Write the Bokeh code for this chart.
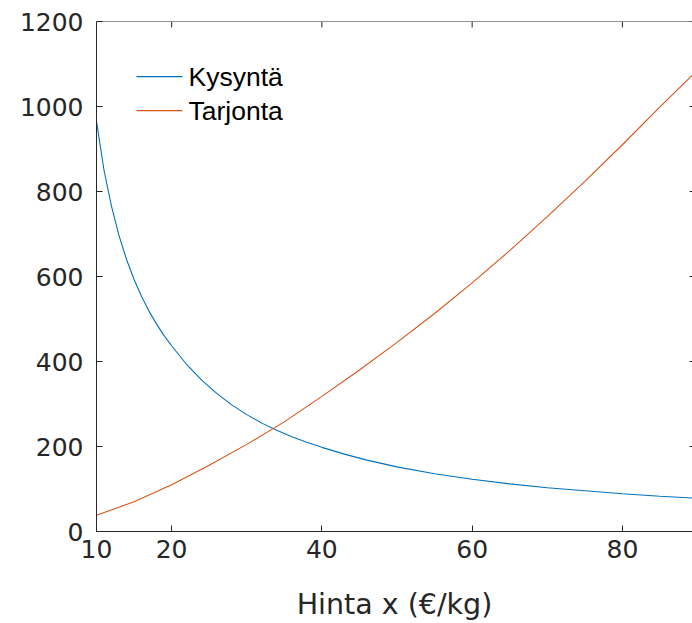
import math

from bokeh.plotting import figure
from bokeh.models import ColumnDataSource, FixedTicker, Label, Range1d, Span
from bokeh.embed import file_html
from bokeh.resources import INLINE

# Demand curve (Kysyntä): quantity against price x
demand_x = [10, 11, 12, 13, 14, 15, 16, 17, 18, 19, 20, 22, 24, 26, 28, 30, 32,
            34, 36, 38, 40, 43, 46, 50, 55, 60, 65, 70, 75, 80, 85, 90]
demand_y = [965, 850, 765, 696, 640, 593, 553, 518, 488, 461, 437, 393, 356,
            325, 298, 275, 255, 238, 223, 210, 198, 182, 168, 152, 136, 123,
            112, 103, 96, 89, 83, 78]

# Supply curve (Tarjonta)
supply_x = [10, 15, 20, 25, 30, 35, 40, 45, 50, 55, 60, 65, 70, 75, 80, 85, 90]
supply_y = [38, 70, 110, 156, 205, 258, 318, 380, 445, 513, 585, 661, 741, 824,
            910, 999, 1086]

series_names = ["Kysyntä", "Tarjonta"]
x_ticks = [10, 20, 40, 60, 80]
y_ticks = [0, 200, 400, 600, 800, 1000, 1200]
x_label = "Hinta x (€/kg)"

X_MIN, X_MAX = 10, 89.33
Y_MIN, Y_MAX = 0, 1200
FRAME_W, FRAME_H = 596, 509          # plot-area size in pixels
PX_X = FRAME_W / (X_MAX - X_MIN)     # pixels per price unit
PX_Y = FRAME_H / (Y_MAX - Y_MIN)     # pixels per quantity unit

TICK_FONT = "DejaVu Sans"
LEGEND_FONT = "Liberation Sans"
AXIS_COLOR = "#262626"
BLUE = "#0072BD"
ORANGE = "#D95319"

p = figure(width=692, height=623, output_backend="svg", toolbar_location=None,
           x_range=Range1d(X_MIN, X_MAX), y_range=Range1d(Y_MIN, Y_MAX),
           min_border_left=96, min_border_right=0, min_border_top=21,
           min_border_bottom=92)
p.xgrid.visible = False
p.ygrid.visible = False
p.outline_line_color = None
p.background_fill_color = "white"
p.border_fill_color = "white"

d_src = ColumnDataSource(dict(x=demand_x, y=demand_y))
s_src = ColumnDataSource(dict(x=supply_x, y=supply_y))
p.line("x", "y", source=d_src, line_color=BLUE, line_width=1.1)
p.line("x", "y", source=s_src, line_color=ORANGE, line_width=1.1)

for ax, ticks, standoff in ((p.xaxis[0], x_ticks, 8), (p.yaxis[0], y_ticks, 13)):
    ax.ticker = FixedTicker(ticks=ticks)
    ax.axis_line_color = AXIS_COLOR
    ax.axis_line_width = 1
    ax.major_tick_line_color = AXIS_COLOR
    ax.major_tick_in = 6
    ax.major_tick_out = 0
    ax.minor_tick_line_color = None
    ax.major_label_text_color = AXIS_COLOR
    ax.major_label_text_font = TICK_FONT
    ax.major_label_text_font_size = "25px"
    ax.major_label_standoff = standoff

xa = p.xaxis[0]
xa.axis_label = x_label
xa.axis_label_text_font = TICK_FONT
xa.axis_label_text_font_size = "28.5px"
xa.axis_label_text_font_style = "normal"
xa.axis_label_text_color = AXIS_COLOR
xa.axis_label_standoff = 27

# Box: top edge with inward ticks, short inward ticks on the right edge
p.add_layout(Span(location=Y_MAX, dimension="width", line_color=AXIS_COLOR,
                  line_width=1))
p.ray(x=x_ticks, y=[Y_MAX] * len(x_ticks), length=6, length_units="screen",
      angle=-math.pi / 2, line_color=AXIS_COLOR, line_width=1)
p.ray(x=[X_MAX] * len(y_ticks), y=y_ticks, length=3, length_units="screen",
      angle=math.pi, line_color=AXIS_COLOR, line_width=1)

# Legend: a 46 px line swatch and a label per series, in two rows
swatch_x = X_MIN + 40 / PX_X
label_x = X_MIN + 92 / PX_X
rows_y = [Y_MAX - 55 / PX_Y, Y_MAX - 89 / PX_Y]
p.ray(x=[swatch_x] * 2, y=rows_y, length=46, length_units="screen", angle=0,
      line_color=[BLUE, ORANGE], line_width=1.1)
for name, row in zip(series_names, rows_y):
    p.add_layout(Label(x=label_x, y=row, text=name, text_baseline="middle",
                       text_font=LEGEND_FONT, text_font_size="26.5px",
                       text_color="black"))

open("out.html", "w").write(file_html(p, INLINE))
